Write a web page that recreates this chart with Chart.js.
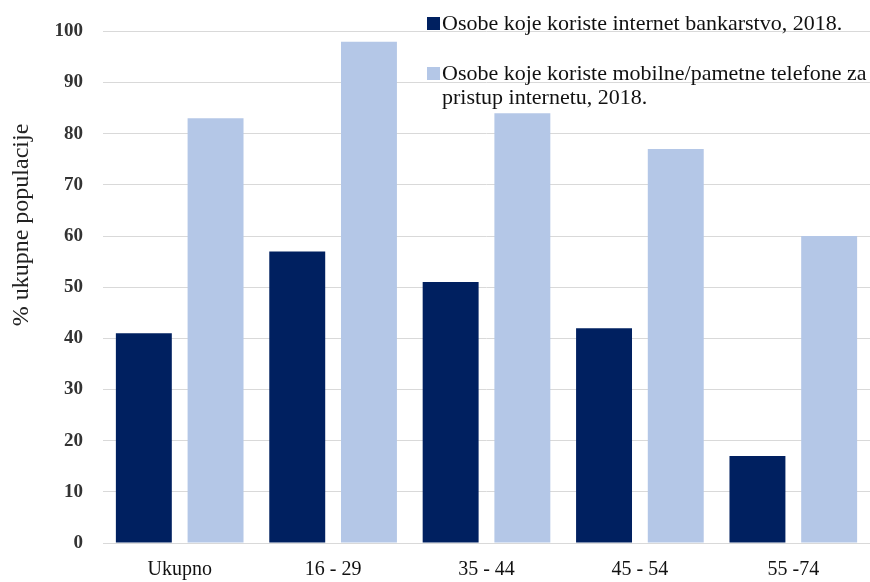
<!DOCTYPE html>
<html>
<head>
<meta charset="utf-8">
<script src="https://cdn.jsdelivr.net/npm/chart.js@4/dist/chart.umd.min.js"></script>
<style>
  html, body { margin: 0; padding: 0; background: #fff; }
  #wrap { width: 870px; height: 582px; position: relative; }
</style>
</head>
<body>
<div id="wrap"><canvas id="chart"></canvas></div>
<script>
// Age groups and shares of population (%)
const categories = ['Ukupno', '16 - 29', '35 - 44', '45 - 54', '55 -74'];
const bankingLabel = 'Osobe koje koriste internet bankarstvo, 2018.';
const mobileLabel = ['Osobe koje koriste mobilne/pametne telefone za', 'pristup internetu, 2018.'];
const yTitle = '% ukupne populacije';
const bankingValues = [41, 57, 51, 42, 17];
const mobileValues = [83, 98, 84, 77, 60];

const colors = { navy: '#002060', light: '#b4c7e7', grid: '#d9d9d9' };
const font = "'Liberation Serif', 'Times New Roman', serif";

// legend in the top-right corner and the y title, drawn by hand
const extras = {
  id: 'extras',
  afterDraw(chart) {
    const ctx = chart.ctx;
    ctx.save();
    ctx.font = '22px ' + font;
    ctx.textBaseline = 'alphabetic';
    ctx.fillStyle = colors.navy;
    ctx.fillRect(427, 17, 13, 13);
    ctx.fillStyle = colors.light;
    ctx.fillRect(427, 67, 13, 13);
    ctx.fillStyle = '#111';
    ctx.fillText(bankingLabel, 442, 30);
    ctx.fillText(mobileLabel[0], 442, 80);
    ctx.fillText(mobileLabel[1], 442, 104);

    ctx.translate(22, 225);
    ctx.rotate(-Math.PI / 2);
    ctx.font = '24px ' + font;
    ctx.textAlign = 'center';
    ctx.textBaseline = 'middle';
    ctx.fillStyle = '#222';
    ctx.fillText(yTitle, 0, 0);
    ctx.restore();
  }
};

new Chart(document.getElementById('chart'), {
  type: 'bar',
  data: {
    labels: categories,
    datasets: [
      { label: bankingLabel, data: bankingValues, backgroundColor: colors.navy,
        categoryPercentage: 0.935, barPercentage: 0.78 },
      { label: mobileLabel.join(' '), data: mobileValues, backgroundColor: colors.light,
        categoryPercentage: 0.935, barPercentage: 0.78 }
    ]
  },
  plugins: [extras],
  options: {
    responsive: true, maintainAspectRatio: false, animation: false,
    layout: { padding: { top: 30, right: 0, left: 0, bottom: 0 } },
    plugins: { legend: { display: false }, tooltip: { enabled: false } },
    scales: {
      x: {
        grid: { display: false },
        border: { color: colors.grid },
        ticks: { color: '#111', font: { family: font, size: 20 }, padding: 7 },
        afterFit(scale) { scale.height = 39; }
      },
      y: {
        min: 0, max: 100,
        ticks: { stepSize: 10, color: '#333', font: { family: font, size: 19, weight: 'bold' }, padding: 20 },
        grid: { color: colors.grid, drawTicks: false },
        border: { display: false },
        afterFit(scale) { scale.width = 103; }
      }
    }
  }
});
</script>
</body>
</html>
